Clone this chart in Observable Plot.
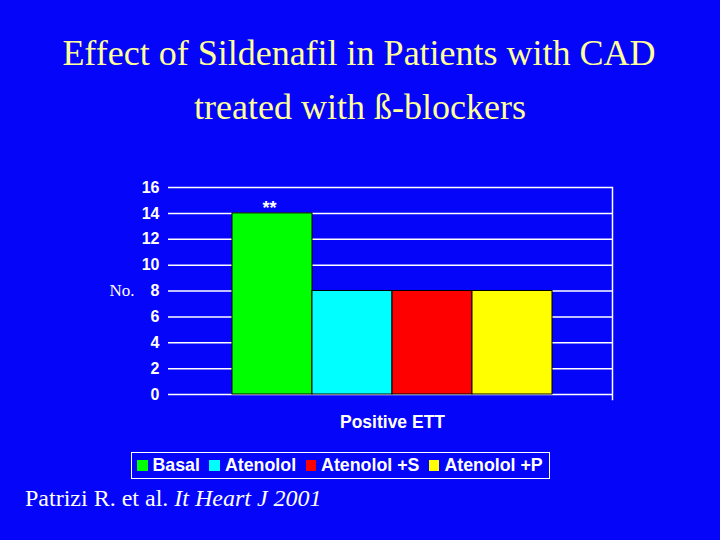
<!DOCTYPE html>
<html>
<head>
<meta charset="utf-8">
<script src="https://cdn.jsdelivr.net/npm/d3@7"></script>
<script src="https://cdn.jsdelivr.net/npm/@observablehq/plot@0.6"></script>
<style>
  html, body { margin: 0; padding: 0; }
  body { width: 720px; height: 540px; background: #0505fa; position: relative; overflow: hidden; }
  .abs { position: absolute; white-space: nowrap; }
  .title { font-family: "Liberation Serif", "Times New Roman", serif; font-size: 36px; line-height: 36px; color: #ffff99; left: 0; width: 720px; text-align: center; }
  .sans { font-family: "Liberation Sans", Arial, sans-serif; font-weight: bold; color: white; }
  #xlabel { font-size: 17.5px; line-height: 17.5px; left: 392.5px; top: 414px; transform: translateX(-50%); }
  #legend { left: 131px; top: 452px; width: 412px; height: 25px; border: 1px solid white; display: flex; align-items: center; font-size: 17.8px; line-height: 17.8px; padding-left: 5px; box-sizing: content-box; }
  #legend .item { display: flex; align-items: center; margin-right: 9.5px; }
  #legend .sw { width: 10.5px; height: 10.5px; margin-right: 5px; }
  #caption { font-family: "Liberation Serif", "Times New Roman", serif; font-size: 24px; line-height: 24px; color: white; left: 25px; top: 486px; }
  #chart { position: absolute; left: 0; top: 0; }
</style>
</head>
<body>
<div class="abs title" style="top:35px;left:-1px">Effect of Sildenafil in Patients with CAD</div>
<div class="abs title" style="top:89px">treated with ß-blockers</div>
<div id="chart"></div>
<div class="abs sans" id="xlabel">Positive ETT</div>
<div class="abs sans" id="legend"></div>
<div class="abs" id="caption">Patrizi R. et al. <i>It Heart J 2001</i></div>
<script>
const categories = ["Basal", "Atenolol", "Atenolol +S", "Atenolol +P"];
const values = [14, 8, 8, 8];
const colors = ["#00ff00", "#00ffff", "#ff0000", "#ffff00"];
const annotations = ["**", "", "", ""];
const yTicks = [0, 2, 4, 6, 8, 10, 12, 14, 16];
const xTitle = "Positive ETT";
const yTitle = "No.";

const data = categories.map((c, i) => ({cat: c, value: values[i], note: annotations[i]}));

const chart = Plot.plot({
  width: 720,
  height: 540,
  marginTop: 187,
  marginBottom: 146,
  marginLeft: 168,
  marginRight: 108,
  style: {background: "transparent", color: "white", fontFamily: "Liberation Sans, Arial, sans-serif"},
  x: {domain: categories, paddingInner: 0, paddingOuter: 0.775, align: 0.52, axis: null},
  y: {domain: [0, 16], ticks: yTicks, label: null},
  color: {domain: categories, range: colors},
  marks: [
    Plot.gridY(yTicks, {stroke: "white", strokeOpacity: 1, strokeWidth: 1.5}),
    Plot.frame({anchor: "right", stroke: "white", strokeOpacity: 1, strokeWidth: 1.5, insetBottom: -5}),
    Plot.barY(data, {x: "cat", y: "value", fill: "cat", stroke: "black", strokeWidth: 1}),
    Plot.text(data.filter(d => d.note), {x: "cat", y: "value", text: "note", dy: -5, dx: -3, fill: "white", fontSize: 18, fontWeight: "bold"}),
    Plot.text([yTitle], {y: 8, frameAnchor: "left", dx: -34, textAnchor: "end", fill: "white", fontSize: 17, fontFamily: "Liberation Serif, Times New Roman, serif"}),
    Plot.axisY(yTicks, {tickSize: 0, tickPadding: 9, fontSize: 16, fontWeight: "bold", fill: "white", label: null})
  ]
});
document.getElementById("chart").appendChild(chart);

document.getElementById("xlabel").textContent = xTitle;

const legend = document.getElementById("legend");
categories.forEach((c, i) => {
  const item = document.createElement("div");
  item.className = "item";
  const sw = document.createElement("div");
  sw.className = "sw";
  sw.style.background = colors[i];
  const t = document.createElement("span");
  t.textContent = c;
  item.appendChild(sw);
  item.appendChild(t);
  legend.appendChild(item);
});
</script>
</body>
</html>
